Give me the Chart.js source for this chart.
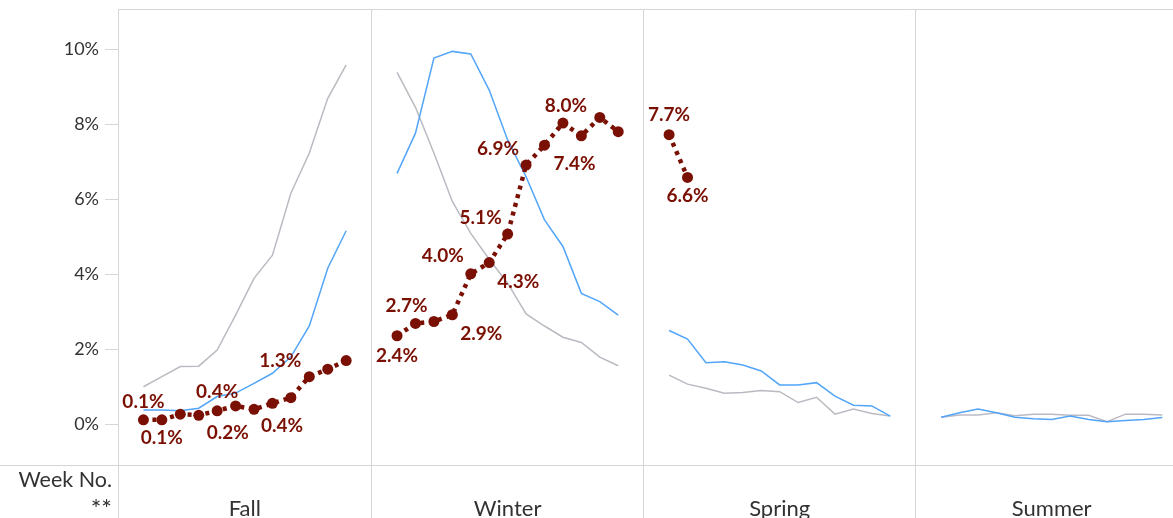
<!DOCTYPE html>
<html><head><meta charset="utf-8">
<script src="https://cdn.jsdelivr.net/npm/chart.js@4"></script>
<style>html,body{margin:0;padding:0;background:#fff;overflow:hidden} canvas{display:block}</style>
</head><body>
<canvas id="c" width="1173" height="518"></canvas>
<script>
// ---------- data ----------
const seasons = ['Fall', 'Winter', 'Spring', 'Summer'];
const weeksPerSeason = [12, 13, 13, 13];
const yTicks = [0, 2, 4, 6, 8, 10];

// current season (dark red, dotted)
const currentFall   = [0.12, 0.12, 0.27, 0.24, 0.36, 0.49, 0.40, 0.56, 0.71, 1.27, 1.47, 1.70];
const currentWinter = [2.36, 2.69, 2.74, 2.92, 4.01, 4.31, 5.07, 6.91, 7.44, 8.03, 7.69, 8.18, 7.80];
const currentSpring = [7.72, 6.58];
const currentSummer = [];

// comparison season (blue)
const blueFall   = [0.38, 0.38, 0.36, 0.43, 0.74, 0.83, 1.09, 1.36, 1.80, 2.62, 4.16, 5.16];
const blueWinter = [6.69, 7.76, 9.76, 9.94, 9.87, 8.91, 7.58, 6.60, 5.45, 4.74, 3.49, 3.27, 2.91];
const blueSpring = [2.50, 2.27, 1.64, 1.67, 1.58, 1.42, 1.05, 1.05, 1.11, 0.75, 0.51, 0.49, 0.22];
const blueSummer = [0.19, 0.31, 0.41, 0.31, 0.19, 0.15, 0.13, 0.22, 0.13, 0.07, 0.10, 0.13, 0.18];

// comparison season (gray)
const grayFall   = [1.00, 1.27, 1.54, 1.55, 1.98, 2.91, 3.89, 4.51, 6.16, 7.23, 8.69, 9.58];
const grayWinter = [9.38, 8.45, 7.23, 5.94, 5.09, 4.40, 3.76, 2.94, 2.62, 2.32, 2.18, 1.79, 1.56];
const graySpring = [1.31, 1.07, 0.96, 0.83, 0.85, 0.90, 0.87, 0.58, 0.72, 0.27, 0.41, 0.29, 0.22];
const graySummer = [0.19, 0.25, 0.25, 0.31, 0.23, 0.27, 0.27, 0.24, 0.24, 0.07, 0.27, 0.27, 0.25];

// which current-season points carry a value label: [season index, week index]
const labelledPoints = [
  [0, 0], [0, 1], [0, 3], [0, 4], [0, 6], [0, 9],
  [1, 0], [1, 1], [1, 3], [1, 4], [1, 5], [1, 6], [1, 7], [1, 8], [1, 9],
  [2, 0], [2, 1]
];

// ---------- layout (not data) ----------
const PAD = 1.38;          // panel padding, in week units
const X_VISIBLE = 57.24;   // visible extent of the week axis
const labelOffsets = [      // pixel offsets of each label from its point
  [0, -18], [0, 18], [29, 18], [0, -19], [28, 17], [-29, -16],
  [0, 20], [-9, -18], [29, 19], [-28, -18], [29, 19], [-27, -16], [-28, -16], [30, 19], [3, -17],
  [0, -20], [0, 18]
];

const panelStart = [];
{ let acc = 0; weeksPerSeason.forEach(n => { panelStart.push(acc); acc += (n - 1) + 2 * PAD; }); }

function build(parts) {
  const pts = [];
  parts.forEach((vals, k) => {
    vals.forEach((v, i) => pts.push({ x: panelStart[k] + PAD + i, y: v }));
    if (k < parts.length - 1) pts.push({ x: panelStart[k + 1], y: null });
  });
  return pts;
}

const tickList = [];
seasons.forEach((s, k) => {
  tickList.push({ value: panelStart[k], label: '', boundary: true });
  tickList.push({ value: panelStart[k] + PAD + (weeksPerSeason[k] - 1) / 2, label: s, boundary: false });
});

const RED = '#7a1003';
const BLUE = '#52a5f8';
const GRAY = '#babac2';
const FRAME = '#d6d6d6';
const TEXT = '#333333';

const currentParts = [currentFall, currentWinter, currentSpring, currentSummer];
const currentData = build(currentParts);
const labelIndex = labelledPoints.map(([k, i]) => {
  let idx = 0;
  for (let j = 0; j < k; j++) idx += currentParts[j].length + 1;
  return idx + i;
});

const labelPlugin = {
  id: 'valueLabels',
  afterDatasetsDraw(chart) {
    const meta = chart.getDatasetMeta(0);
    const ctx = chart.ctx;
    ctx.save();
    ctx.font = 'bold 19px Lato';
    ctx.fillStyle = RED;
    ctx.textAlign = 'center';
    ctx.textBaseline = 'middle';
    labelIndex.forEach((idx, n) => {
      const el = meta.data[idx];
      const v = currentData[idx].y;
      ctx.fillText(v.toFixed(1) + '%', el.x + labelOffsets[n][0], el.y + labelOffsets[n][1]);
    });
    ctx.restore();
  }
};

const framePlugin = {
  id: 'frame',
  afterDraw(chart) {
    const { ctx, chartArea } = chart;
    ctx.save();
    ctx.strokeStyle = FRAME;
    ctx.lineWidth = 1;
    ctx.beginPath();
    ctx.moveTo(chartArea.left, Math.round(chartArea.top) + 0.5);
    ctx.lineTo(chartArea.right, Math.round(chartArea.top) + 0.5);
    ctx.moveTo(0, Math.round(chartArea.bottom) + 0.5);
    ctx.lineTo(chartArea.left, Math.round(chartArea.bottom) + 0.5);
    ctx.stroke();
    ctx.fillStyle = TEXT;
    ctx.textAlign = 'right';
    ctx.textBaseline = 'alphabetic';
    ctx.font = '21.5px Lato';
    ctx.fillText('Week No.', chartArea.left - 6, chartArea.bottom + 22);
    ctx.font = '25px Lato';
    ctx.fillText('**', chartArea.left - 6, chartArea.bottom + 53);
    ctx.restore();
  }
};

function makeChart() {
  new Chart(document.getElementById('c'), {
    type: 'line',
    data: {
      datasets: [
        {
          label: 'Current season',
          data: currentData,
          borderColor: RED, backgroundColor: RED,
          borderWidth: 4.5, borderDash: [4, 5], borderCapStyle: 'butt',
          pointRadius: 5.5, pointBackgroundColor: RED, pointBorderWidth: 0,
          spanGaps: false, tension: 0
        },
        {
          label: 'Comparison A',
          data: build([blueFall, blueWinter, blueSpring, blueSummer]),
          borderColor: BLUE, borderWidth: 1.5, pointRadius: 0, spanGaps: false, tension: 0
        },
        {
          label: 'Comparison B',
          data: build([grayFall, grayWinter, graySpring, graySummer]),
          borderColor: GRAY, borderWidth: 1.5, pointRadius: 0, spanGaps: false, tension: 0
        }
      ]
    },
    options: {
      responsive: false,
      animation: false,
      devicePixelRatio: 1,
      layout: { autoPadding: false, padding: { top: 9, left: 0, right: 0, bottom: 0 } },
      plugins: { legend: { display: false }, tooltip: { enabled: false } },
      scales: {
        x: {
          type: 'linear',
          min: 0, max: X_VISIBLE,
          afterBuildTicks(scale) { scale.ticks = tickList.map(t => ({ value: t.value })); },
          afterFit(scale) { scale.height = 53; scale.paddingLeft = 0; scale.paddingRight = 0; },
          grid: {
            display: true, drawOnChartArea: true, drawTicks: true, tickLength: 53,
            color: (c) => (tickList[c.index] && tickList[c.index].boundary) ? FRAME : 'rgba(0,0,0,0)',
            lineWidth: 1
          },
          border: { display: true, color: FRAME },
          ticks: {
            autoSkip: false, maxRotation: 0, minRotation: 0, padding: -22,
            color: TEXT, font: { family: 'Lato', size: 22 },
            callback: (v, i) => tickList[i] ? tickList[i].label : ''
          }
        },
        y: {
          type: 'linear',
          min: -1.085, max: 11.07,
          afterBuildTicks(scale) { scale.ticks = yTicks.map(v => ({ value: v })); },
          afterFit(scale) { scale.width = 118; scale.paddingTop = 0; scale.paddingBottom = 0; },
          grid: { display: true, drawOnChartArea: false, drawTicks: true, tickLength: 13, color: FRAME },
          border: { display: true, color: FRAME },
          ticks: {
            padding: 6, color: TEXT, font: { family: 'Lato', size: 18 },
            callback: (v) => v + '%'
          }
        }
      }
    },
    plugins: [labelPlugin, framePlugin]
  });
}

Promise.all([
  document.fonts.load('18px Lato'), document.fonts.load('bold 19px Lato')
]).then(makeChart, makeChart);
</script>
</body></html>
